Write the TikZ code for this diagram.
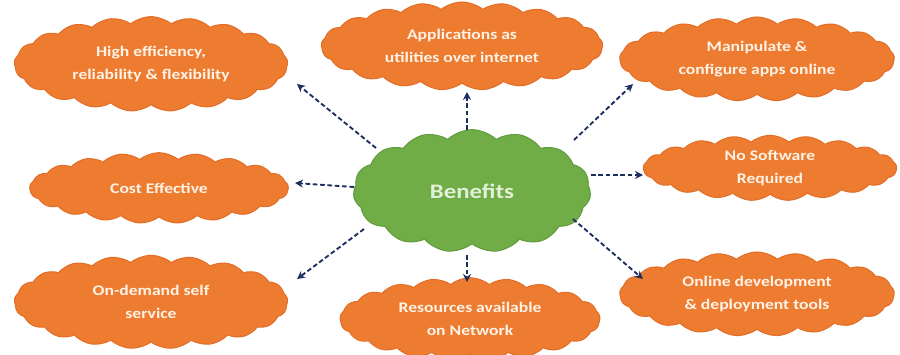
\documentclass[tikz,border=0pt]{standalone}
\usepackage{fontspec}
\setmainfont{Carlito}[FakeStretch=1.2]
\usetikzlibrary{shapes.symbols,arrows.meta}

\definecolor{cloudorange}{RGB}{238,124,48}
\definecolor{cloudrim}{RGB}{226,110,40}
\definecolor{cloudtext}{RGB}{255,243,232}
\definecolor{benefitgreen}{RGB}{112,173,71}
\definecolor{benefitrim}{RGB}{98,156,60}
\definecolor{benefittext}{RGB}{226,240,217}
\definecolor{arrownavy}{RGB}{28,45,95}

\tikzset{every picture/.style={line width=0.75pt}}
\tikzset{
  orangecloud/.style={cloud, cloud puffs=21, cloud puff arc=78, cloud ignores aspect,
    fill=cloudorange, draw=cloudrim, line width=0.8pt, inner sep=0pt, align=center,
    text=cloudtext, font=\bfseries\fontsize{11}{17}\selectfont},
  greencloud/.style={cloud, cloud puffs=15, cloud puff arc=88, cloud ignores aspect,
    fill=benefitgreen, draw=benefitrim, line width=0.8pt, inner sep=0pt,
    text=benefittext, font=\bfseries\fontsize{15.5}{18}\selectfont},
  dasharrow/.style={draw=arrownavy, line width=1.4pt, dash pattern=on 3.5pt off 2pt,
    -{Stealth[length=6pt,width=6pt]}}
}

\begin{document}
\begin{tikzpicture}[x=0.75pt,y=0.75pt,yscale=-1,xscale=1]
\useasboundingbox (0,0) rectangle (900,354);

%Shape: Cloud [centre]
\node[greencloud, minimum width=178pt, minimum height=92pt] (benefits) at (472,191) {Benefits};

%Shape: Cloud [top row]
\node[orangecloud, minimum width=205pt, minimum height=71pt] (high) at (151,64) {High efficiency,\\reliability \& flexibility};
\node[orangecloud, minimum width=211pt, minimum height=66pt] (apps) at (462,46) {Applications as\\utilities over internet};
\node[orangecloud, minimum width=206pt, minimum height=63pt] (manip) at (757,59) {Manipulate \&\\configure apps online};

%Shape: Cloud [middle row]
\node[orangecloud, minimum width=194pt, minimum height=53pt] (cost) at (159,188) {Cost Effective};
\node[orangecloud, minimum width=190pt, minimum height=49pt] (nosoft) at (770,168) {No Software\\Required};

%Shape: Cloud [bottom row]
\node[orangecloud, minimum width=205pt, minimum height=70pt] (ondemand) at (151,302) {On-demand self\\service};
\node[orangecloud, minimum width=195pt, minimum height=62pt] (resources) at (470,319) {Resources available\\on Network};
\node[orangecloud, minimum width=206pt, minimum height=63pt] (online) at (757,294) {Online development\\\& deployment tools};

%Straight Lines
\draw[dasharrow] ([shift={(-96,-43)}]benefits.center) -- ([shift={(146,20)}]high.center);
\draw[dasharrow] ([shift={(-5,-61)}]benefits.center) -- ([shift={(5,46)}]apps.center);
\draw[dasharrow] ([shift={(102,-51)}]benefits.center) -- ([shift={(-124,25)}]manip.center);
\draw[dasharrow] ([shift={(-118,-4)}]benefits.center) -- ([shift={(136,-5)}]cost.center);
\draw[dasharrow] ([shift={(119,-16)}]benefits.center) -- ([shift={(-127,7)}]nosoft.center);
\draw[dasharrow] ([shift={(-108,38)}]benefits.center) -- ([shift={(146,-23)}]ondemand.center);
\draw[dasharrow] ([shift={(-5,64)}]benefits.center) -- ([shift={(-3,-37)}]resources.center);
\draw[dasharrow] ([shift={(101,28)}]benefits.center) -- ([shift={(-114,-15)}]online.center);

\end{tikzpicture}
\end{document}
